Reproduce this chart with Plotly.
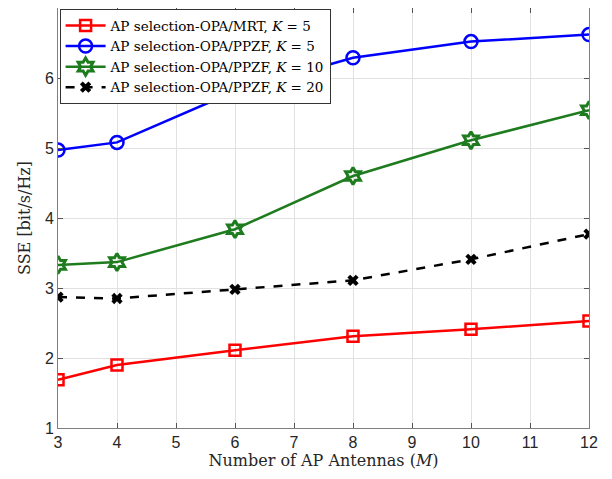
import plotly.graph_objects as go

antennas = [3, 4, 6, 8, 10, 12]
mrt_k5 = [1.69, 1.90, 2.11, 2.31, 2.41, 2.53]
ppzf_k5 = [4.97, 5.08, 5.81, 6.29, 6.52, 6.62]
ppzf_k10 = [3.33, 3.37, 3.84, 4.60, 5.11, 5.54]
ppzf_k20 = [2.87, 2.85, 2.98, 3.11, 3.41, 3.77]

names = [
    "AP selection-OPA/MRT, <i>K</i> = 5",
    "AP selection-OPA/PPZF, <i>K</i> = 5",
    "AP selection-OPA/PPZF, <i>K</i> = 10",
    "AP selection-OPA/PPZF, <i>K</i> = 20",
]

fig = go.Figure()
fig.add_trace(go.Scatter(x=antennas, y=mrt_k5, name=names[0], mode="lines+markers",
                         line=dict(color="#ff0000", width=2.5),
                         marker=dict(symbol="square-open", size=11, color="#ff0000", line=dict(width=2.5))))
fig.add_trace(go.Scatter(x=antennas, y=ppzf_k5, name=names[1], mode="lines+markers",
                         line=dict(color="#0000ff", width=2.5),
                         marker=dict(symbol="circle-open", size=13, color="#0000ff", line=dict(width=2.5))))
fig.add_trace(go.Scatter(x=antennas, y=ppzf_k10, name=names[2], mode="lines+markers",
                         line=dict(color="#1e7b1e", width=2.5),
                         marker=dict(symbol="hexagram-open", size=13, color="#1e7b1e", line=dict(width=3))))
fig.add_trace(go.Scatter(x=antennas, y=ppzf_k20, name=names[3], mode="lines+markers",
                         line=dict(color="#000000", width=2.5, dash="dash"),
                         marker=dict(symbol="x", size=10, color="#000000", line=dict(width=0))))

axis_common = dict(showline=True, linecolor="#7f7f7f", linewidth=1, mirror="ticks",
                   ticks="inside", ticklen=5, tickcolor="#555555", automargin=False,
                   showgrid=True, gridcolor="#e1e1e1", gridwidth=1, zeroline=False,
                   tickfont=dict(family="Liberation Sans, Arial", size=16, color="#262626"))

fig.update_xaxes(range=[3, 12], dtick=1, **axis_common,
                 title=dict(text="Number of AP Antennas (<i>M</i>)",
                            font=dict(family="DejaVu Serif", size=16, color="#262626"), standoff=4))
fig.update_yaxes(range=[1, 7], dtick=1, **axis_common,
                 title=dict(text="SSE [bit/s/Hz]",
                            font=dict(family="DejaVu Serif", size=16, color="#262626"), standoff=10))

# page body has an 8px default margin, so the figure is offset by 8px
fig.update_layout(
    width=604, height=471,
    margin=dict(l=50, r=23, t=0, b=51, autoexpand=False),
    plot_bgcolor="white", paper_bgcolor="white",
    legend=dict(x=0.003, y=0.997, xanchor="left", yanchor="top",
                bgcolor="white", bordercolor="#333333", borderwidth=1,
                font=dict(family="DejaVu Serif", size=13.5, color="#000000"),
                tracegroupgap=0, itemwidth=40),
    showlegend=True,
)

fig.write_html("out.html")
